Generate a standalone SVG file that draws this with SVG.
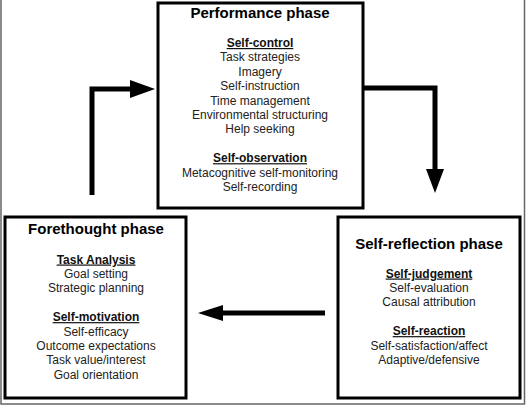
<svg xmlns="http://www.w3.org/2000/svg" width="526" height="409" viewBox="0 0 526 409">
<style>
.box{fill:#fff;stroke:#000;stroke-width:3}
.frame{fill:none;stroke:#666;stroke-width:1.5}
text{font-family:"Liberation Sans",Arial,sans-serif;text-anchor:middle;fill:#222;font-size:12px}
.title{font-size:15px;font-weight:bold;fill:#000}
.head{font-weight:bold;text-decoration:underline;fill:#111}
.conn{fill:none;stroke:#000;stroke-width:5;stroke-linejoin:miter}
.head-arrow{fill:#000}
</style>
<rect x="0" y="0" width="526" height="409" fill="#fff"/>
<path class="frame" d="M1,0 V404 H524.5 V0"/>
<g id="performance">
<rect class="box" x="158" y="3" width="205" height="205"/>
<text class="title" x="260" y="18">Performance phase</text>
<text class="head" x="260" y="47">Self-control</text>
<text x="260" y="61.4">Task strategies</text>
<text x="260" y="75.8">Imagery</text>
<text x="260" y="90.2">Self-instruction</text>
<text x="260" y="104.6">Time management</text>
<text x="260" y="119">Environmental structuring</text>
<text x="260" y="133.4">Help seeking</text>
<text class="head" x="260" y="162.2">Self-observation</text>
<text x="260" y="176.6">Metacognitive self-monitoring</text>
<text x="260" y="191">Self-recording</text>
</g>
<g id="forethought">
<rect class="box" x="5" y="217" width="181" height="181"/>
<text class="title" x="96" y="233.5">Forethought phase</text>
<text class="head" x="96" y="263.5">Task Analysis</text>
<text x="96" y="277.9">Goal setting</text>
<text x="96" y="292.3">Strategic planning</text>
<text class="head" x="96" y="321.1">Self-motivation</text>
<text x="96" y="335.5">Self-efficacy</text>
<text x="96" y="349.9">Outcome expectations</text>
<text x="96" y="364.3">Task value/interest</text>
<text x="96" y="378.7">Goal orientation</text>
</g>
<g id="selfreflection">
<rect class="box" x="338" y="217" width="182" height="181"/>
<text class="title" x="429" y="248.5">Self-reflection phase</text>
<text class="head" x="429" y="277.5">Self-judgement</text>
<text x="429" y="291.9">Self-evaluation</text>
<text x="429" y="306.3">Causal attribution</text>
<text class="head" x="429" y="335.1">Self-reaction</text>
<text x="429" y="349.5">Self-satisfaction/affect</text>
<text x="429" y="363.9">Adaptive/defensive</text>
</g>
<g id="connectors">
<path class="conn" d="M92,195 V89 H132"/>
<polygon class="head-arrow" points="130,80 155,89 130,98"/>
<path class="conn" d="M363,88 H435 V172"/>
<polygon class="head-arrow" points="426,169 444,169 435,193"/>
<path class="conn" d="M325,313 H220"/>
<polygon class="head-arrow" points="223,305 198,313 223,321"/>
</g>
</svg>
